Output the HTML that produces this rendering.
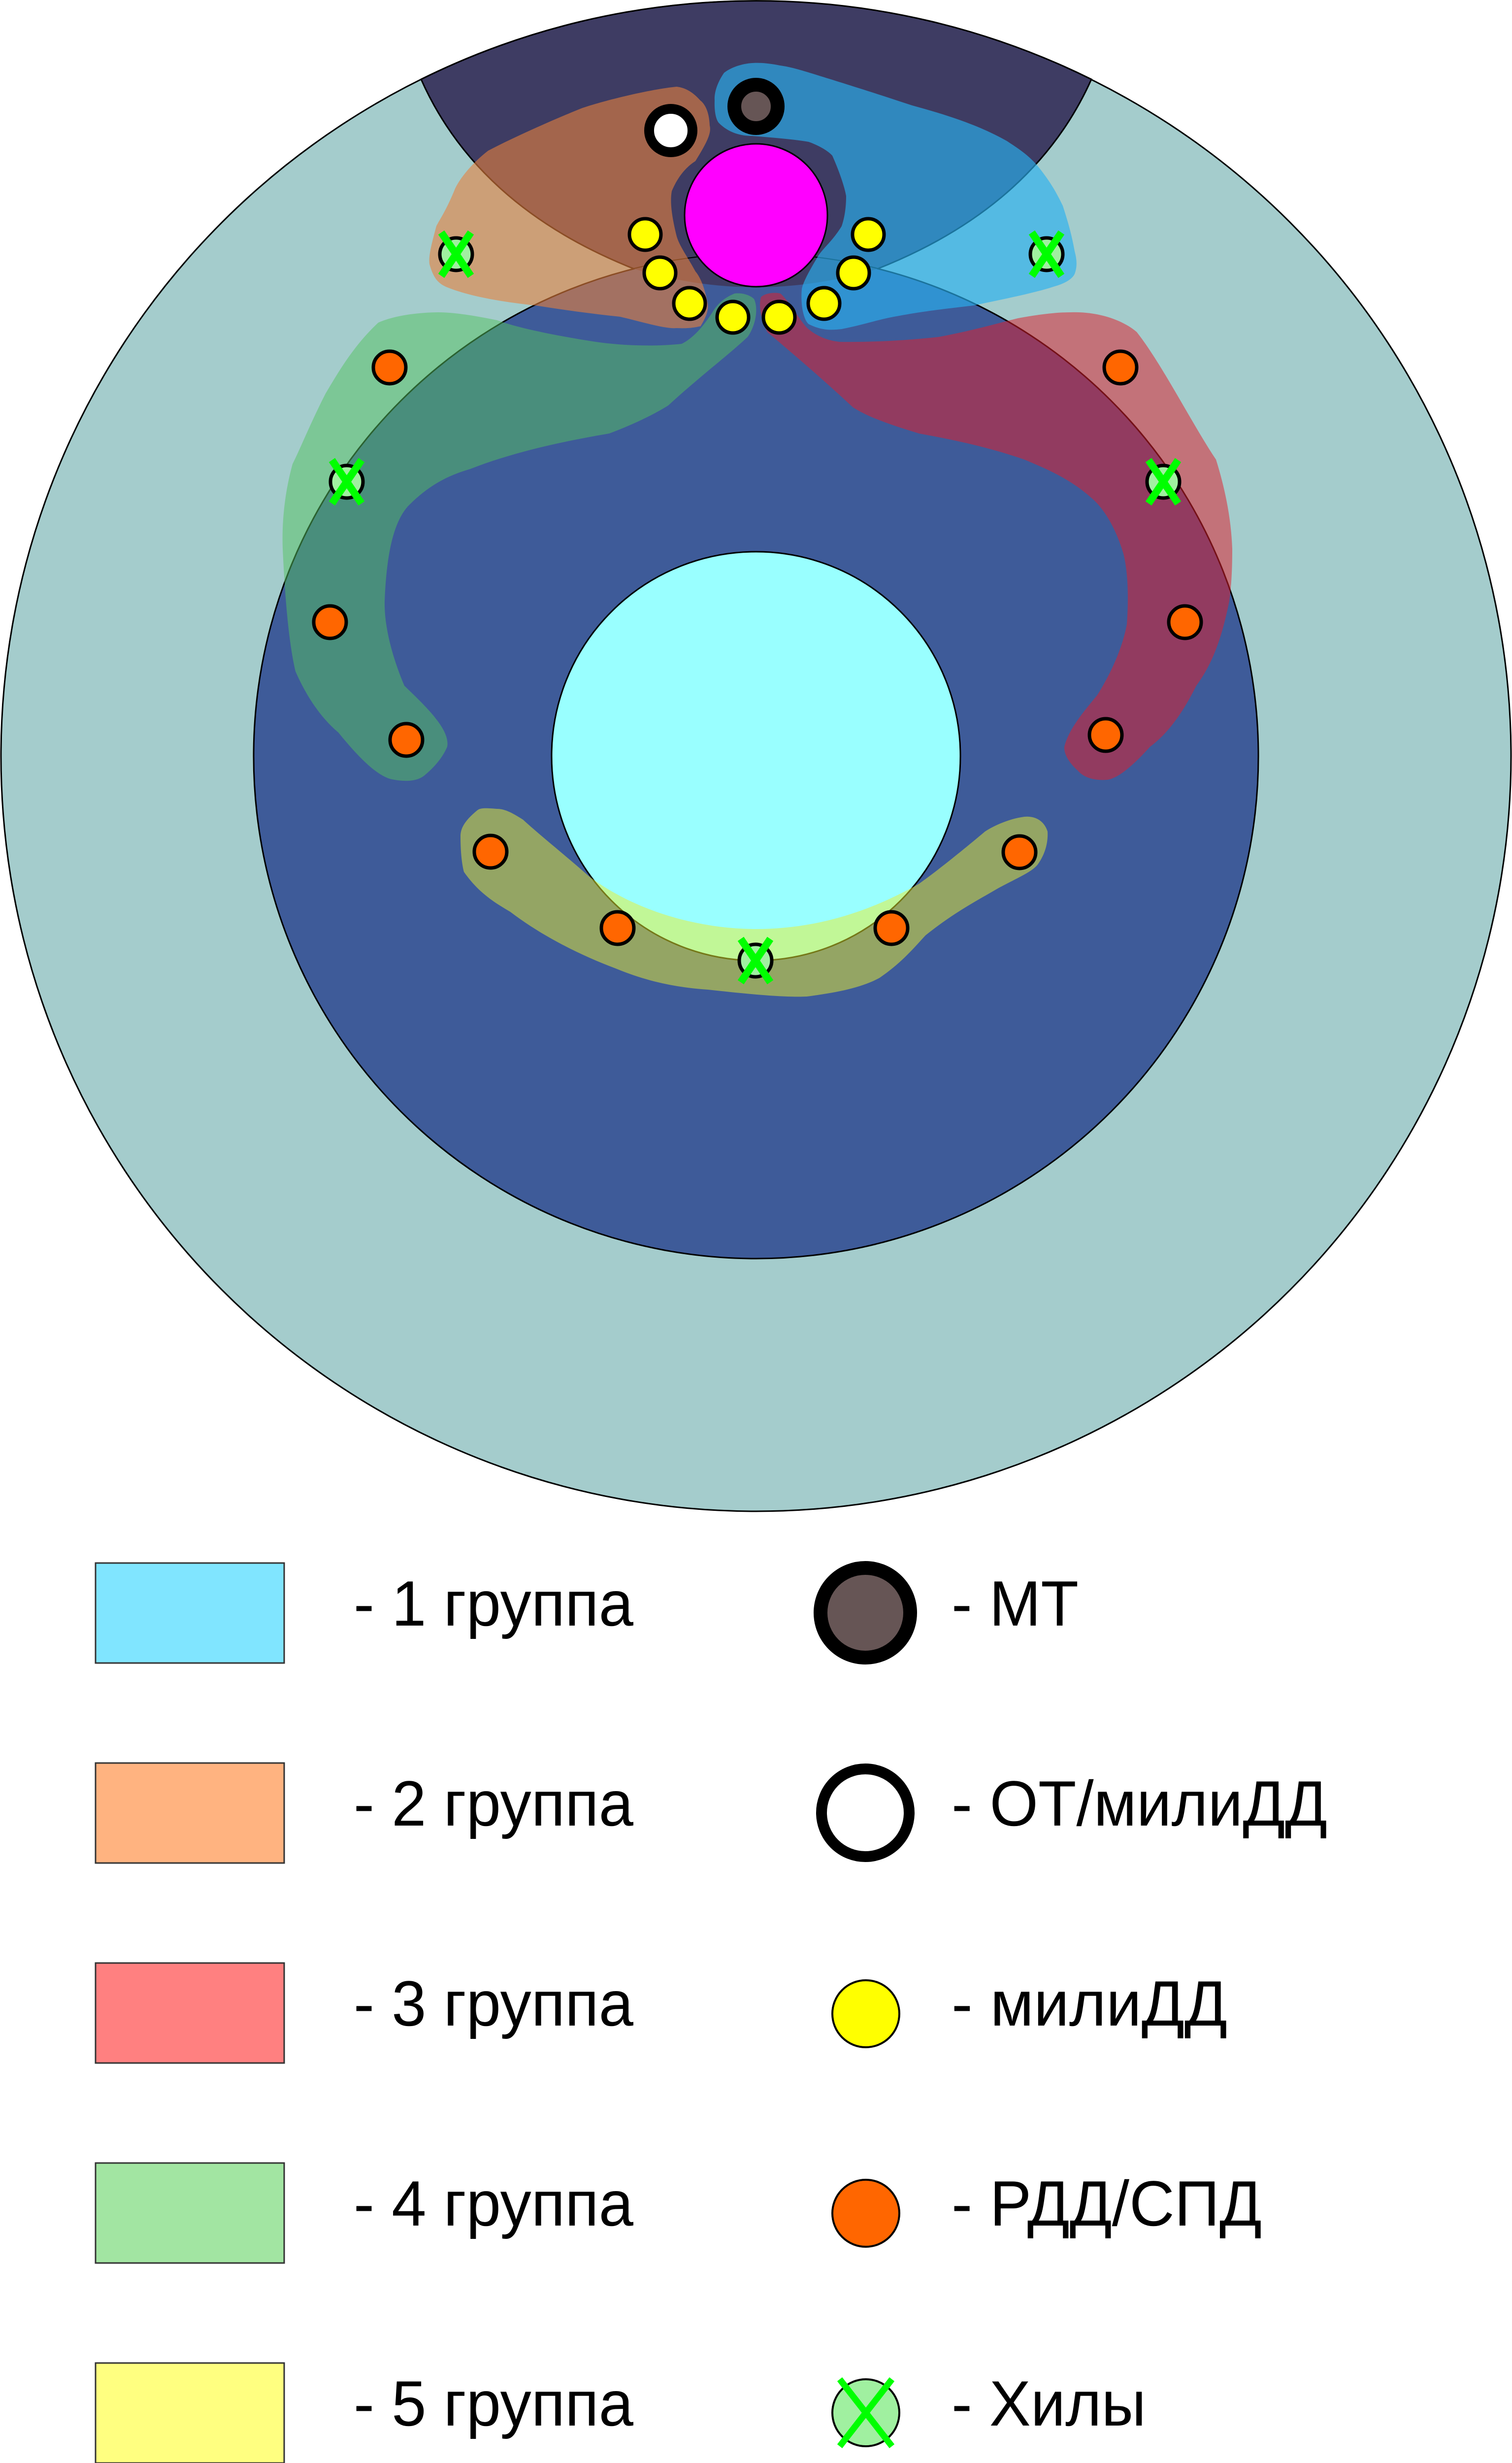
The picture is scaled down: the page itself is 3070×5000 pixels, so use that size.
<!DOCTYPE html>
<html><head><meta charset="utf-8"><style>
html,body{margin:0;padding:0;background:#fff;}
svg{display:block;}
text{font-family:"Liberation Sans","Noto Sans CJK SC",sans-serif;font-size:130px;fill:#000;}
</style></head><body>
<svg width="3070" height="5000" viewBox="0 0 3070 5000" xmlns="http://www.w3.org/2000/svg">
<defs>
<g id="xm"><circle r="33" fill="#a0f0a0" stroke="#000" stroke-width="7"/><path d="M-30,-44 L30,44 M30,-44 L-30,44" stroke="#00ff00" stroke-width="15"/></g>
</defs>
<circle cx="1535" cy="1535" r="1533" fill="#a4cccc" stroke="#000" stroke-width="3"/>
<path d="M855,161 A1533,1533 0 0 1 2216,161 Q2100,420 1781,546 Q1535,620 1288,546 Q970,420 855,161 Z" fill="#3e3c63" stroke="#000" stroke-width="3"/>
<circle cx="1535" cy="1535" r="1020" fill="#3e5b99" stroke="#000" stroke-width="3"/>
<path d="M1288,546 Q1535,620 1781,546 A1020,1020 0 0 0 1288,546 Z" fill="#3e3c63"/>
<circle cx="1535" cy="1535" r="415" fill="#99ffff" stroke="#000" stroke-width="3"/>
<path d="M1374,176 C1330,180 1240,200 1183,219 C1130,240 1040,280 991,306 C960,330 935,360 924,383 C905,430 890,450 886,459 C875,500 870,520 872,536 C880,565 890,575 905,582 C960,605 1040,615 1087,620 C1150,630 1210,638 1259,643 C1310,655 1350,668 1374,666 C1410,668 1425,660 1422,663 C1436,640 1440,625 1436,612 C1430,580 1420,560 1412,551 C1395,520 1380,500 1374,480 C1364,440 1360,410 1364,388 C1380,350 1400,335 1412,327 C1435,290 1445,270 1441,255 C1440,225 1430,210 1422,204 C1405,185 1390,178 1374,176 Z" fill="#e8813d" opacity="0.6"/>
<path d="M1527,128 C1500,130 1480,140 1470,148 C1455,170 1450,190 1451,204 C1450,230 1455,245 1460,250 C1480,270 1505,276 1527,276 C1580,280 1620,284 1642,288 C1670,298 1685,310 1690,316 C1705,350 1715,380 1718,398 C1718,430 1712,450 1709,459 C1690,490 1670,505 1661,520 C1640,555 1630,575 1628,587 C1625,620 1632,650 1642,658 C1670,672 1690,670 1709,668 C1750,660 1780,650 1805,645 C1880,630 1940,625 1977,620 C2050,605 2110,592 2139,582 C2165,575 2178,565 2182,556 C2188,540 2186,525 2182,510 C2175,470 2165,440 2158,418 C2140,380 2125,360 2111,342 C2090,315 2065,300 2044,286 C1980,250 1910,230 1852,214 C1780,190 1700,165 1661,153 C1620,140 1600,135 1584,133 C1560,128 1540,127 1527,128 Z" fill="#2ab0f0" opacity="0.65"/>
<path d="M888,634 C830,635 790,645 768,655 C720,700 690,750 661,799 C630,860 610,910 594,942 C578,1000 572,1060 574,1114 C578,1200 585,1300 600,1363 C625,1420 655,1460 687,1487 C730,1540 770,1580 801,1583 C830,1588 850,1584 862,1574 C885,1555 900,1535 908,1516 C915,1480 860,1430 821,1392 C795,1330 780,1270 781,1220 C785,1120 800,1060 828,1028 C870,985 910,965 955,952 C1050,915 1150,895 1237,880 C1290,860 1330,840 1357,823 C1420,765 1480,720 1518,684 C1535,660 1540,625 1531,607 C1520,596 1500,594 1491,596 C1470,605 1460,615 1451,627 C1430,660 1410,685 1384,698 C1320,705 1250,700 1210,694 C1120,680 1050,665 1009,650 C960,640 920,634 888,634 Z" fill="#54c25f" opacity="0.5"/>
<path d="M2174,634 C2230,632 2280,650 2308,674 C2360,740 2420,860 2469,933 C2490,1000 2500,1060 2502,1114 C2502,1160 2500,1190 2496,1220 C2480,1300 2460,1350 2429,1392 C2400,1450 2370,1490 2335,1516 C2300,1555 2270,1580 2248,1583 C2220,1585 2200,1578 2188,1564 C2170,1548 2160,1530 2161,1516 C2170,1480 2200,1445 2228,1411 C2260,1360 2280,1310 2288,1267 C2292,1210 2290,1160 2281,1124 C2265,1070 2240,1030 2214,1009 C2170,970 2120,950 2080,933 C2000,905 1920,890 1866,880 C1800,860 1760,845 1732,827 C1660,760 1600,710 1558,674 C1545,650 1540,620 1545,603 C1555,594 1575,593 1585,596 C1605,615 1620,645 1638,665 C1660,685 1685,692 1705,694 C1780,695 1850,690 1906,684 C1980,670 2030,655 2067,646 C2110,638 2145,634 2174,634 Z" fill="#e01f2d" opacity="0.52"/>
<path d="M1009,1642 C985,1640 975,1640 969,1645 C945,1665 935,1680 935,1698 C935,1730 938,1755 942,1770 C970,1810 1000,1830 1036,1851 C1100,1900 1180,1940 1250,1966 C1320,1995 1380,2005 1437,2009 C1520,2018 1590,2025 1638,2023 C1700,2015 1750,2005 1786,1985 C1830,1955 1855,1925 1879,1899 C1940,1850 1990,1825 2027,1803 C2070,1780 2095,1770 2107,1755 C2125,1730 2128,1705 2127,1688 C2120,1665 2100,1656 2080,1658 C2050,1662 2020,1675 2000,1688 C1950,1730 1900,1770 1866,1794 C1750,1860 1640,1886 1534,1886 C1420,1886 1290,1850 1196,1779 C1140,1730 1090,1690 1062,1664 C1040,1650 1025,1642 1009,1642 Z" fill="#eaf030" opacity="0.5"/>
<circle cx="1535" cy="437" r="145" fill="#ff00ff" stroke="#000" stroke-width="3"/>
<circle cx="1535" cy="216" r="44" fill="#665555" stroke="#000" stroke-width="28"/>
<circle cx="1362" cy="265" r="44" fill="#fff" stroke="#000" stroke-width="20"/>
<g fill="#ffff00" stroke="#000" stroke-width="7">
<circle cx="1310" cy="476" r="32"/><circle cx="1340" cy="554" r="32"/><circle cx="1400" cy="616" r="32"/><circle cx="1488" cy="644" r="32"/>
<circle cx="1582" cy="644" r="32"/><circle cx="1673" cy="616" r="32"/><circle cx="1733" cy="554" r="32"/><circle cx="1763" cy="476" r="32"/>
</g>
<g fill="#ff6600" stroke="#000" stroke-width="7">
<circle cx="791" cy="746" r="33"/><circle cx="670" cy="1263" r="33"/><circle cx="825" cy="1502" r="33"/>
<circle cx="2275" cy="746" r="33"/><circle cx="2406" cy="1263" r="33"/><circle cx="2245" cy="1492" r="33"/>
<circle cx="996" cy="1729" r="33"/><circle cx="1254" cy="1884" r="33"/><circle cx="1810" cy="1884" r="33"/><circle cx="2070" cy="1730" r="33"/>
</g>
<use href="#xm" x="926" y="516"/><use href="#xm" x="2125" y="516"/>
<use href="#xm" x="704" y="978"/><use href="#xm" x="2362" y="978"/><use href="#xm" x="1534" y="1950"/>

<g stroke="#333" stroke-width="3">
<rect x="194" y="3173" width="383" height="203" fill="#80e5ff"/>
<rect x="194" y="3579" width="383" height="203" fill="#ffb380"/>
<rect x="194" y="3985" width="383" height="203" fill="#ff8080"/>
<rect x="194" y="4391" width="383" height="203" fill="#a2e5a2"/>
<rect x="194" y="4797" width="383" height="203" fill="#ffff80"/>
</g>
<text x="718" y="3300" textLength="568" lengthAdjust="spacingAndGlyphs">- 1 группа</text>
<text x="718" y="3706" textLength="568" lengthAdjust="spacingAndGlyphs">- 2 группа</text>
<text x="718" y="4112" textLength="568" lengthAdjust="spacingAndGlyphs">- 3 группа</text>
<text x="718" y="4518" textLength="568" lengthAdjust="spacingAndGlyphs">- 4 группа</text>
<text x="718" y="4924" textLength="568" lengthAdjust="spacingAndGlyphs">- 5 группа</text>
<circle cx="1757" cy="3274" r="91" fill="#665555" stroke="#000" stroke-width="28"/>
<circle cx="1757" cy="3680" r="89" fill="#fff" stroke="#000" stroke-width="22"/>
<circle cx="1758" cy="4088" r="68" fill="#ffff00" stroke="#000" stroke-width="4"/>
<circle cx="1758" cy="4493" r="68" fill="#ff6600" stroke="#000" stroke-width="4"/>
<circle cx="1758" cy="4898" r="68" fill="#a0f0a0" stroke="#000" stroke-width="4"/>
<path d="M1705,4830 L1811,4966 M1811,4830 L1705,4966" stroke="#00ff00" stroke-width="13"/>
<text x="1932" y="3300" textLength="258" lengthAdjust="spacingAndGlyphs">- МТ</text>
<text x="1932" y="3706" textLength="763" lengthAdjust="spacingAndGlyphs">- ОТ/милиДД</text>
<text x="1932" y="4112" textLength="560" lengthAdjust="spacingAndGlyphs">- милиДД</text>
<text x="1932" y="4518" textLength="630" lengthAdjust="spacingAndGlyphs">- РДД/СПД</text>
<text x="1932" y="4924" textLength="395" lengthAdjust="spacingAndGlyphs">- Хилы</text>
</svg>
</body></html>
